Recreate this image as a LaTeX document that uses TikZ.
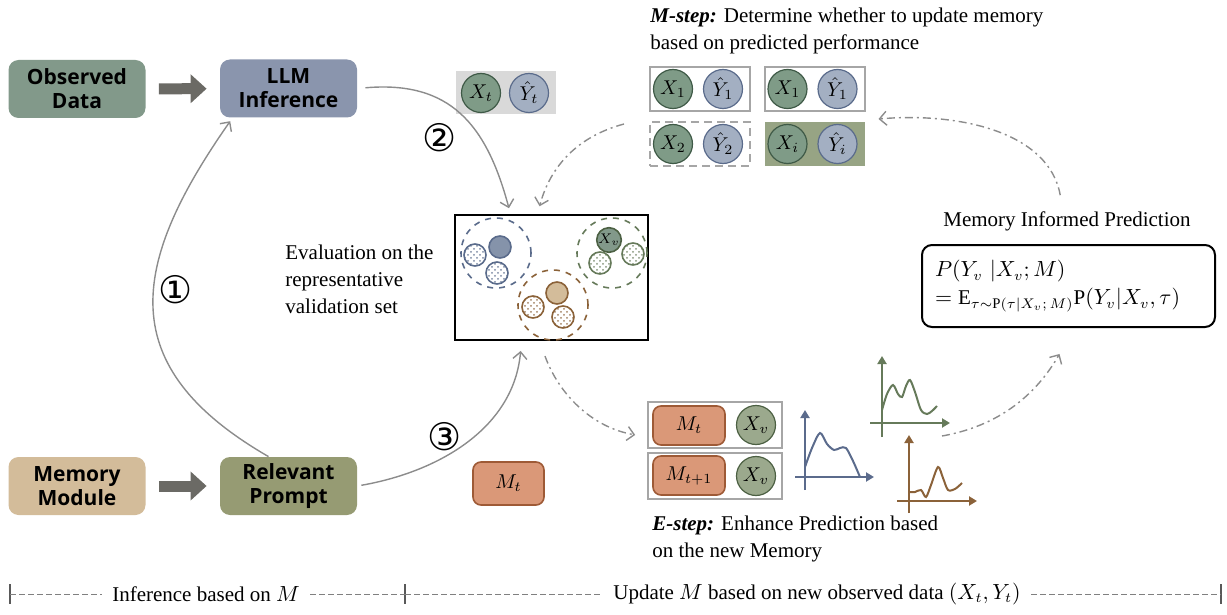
\documentclass[tikz,border=0pt]{standalone}
\usepackage{fontspec}
\setmainfont{Liberation Serif}
\newfontfamily\labelfont{Open Sans}
\newfontfamily\numfont{DejaVu Sans}
\usetikzlibrary{arrows.meta,patterns,positioning}

\definecolor{cobs}{HTML}{82998A}
\definecolor{cllm}{HTML}{8A95AD}
\definecolor{cmem}{HTML}{D3BC9A}
\definecolor{cprompt}{HTML}{969B73}
\definecolor{cfat}{HTML}{6B6A65}
\definecolor{cxfill}{HTML}{7F9B87}
\definecolor{cxdraw}{HTML}{3F5A47}
\definecolor{cyfill}{HTML}{A3AFC2}
\definecolor{cydraw}{HTML}{5A6B8B}
\definecolor{cysolid}{HTML}{8593AA}
\definecolor{corange}{HTML}{DA9878}
\definecolor{corangedraw}{HTML}{9E5A36}
\definecolor{cvfill}{HTML}{9BA98D}
\definecolor{cvdraw}{HTML}{4C6043}
\definecolor{cxi}{HTML}{97A484}
\definecolor{cconn}{HTML}{8C8C8C}
\definecolor{cgrid}{HTML}{A6A6A6}
\definecolor{cblueplot}{HTML}{5B6B8C}
\definecolor{cgreenplot}{HTML}{667A5A}
\definecolor{cbrownplot}{HTML}{8B6239}

\tikzstyle{block}     = [rounded corners=5pt, minimum width=68.5pt, minimum height=29pt, align=center, inner sep=0pt, font=\labelfont\bfseries\fontsize{10.5}{12}\selectfont]
\tikzstyle{fat}       = [cfat, line width=5.5pt, -{Triangle[length=8pt,width=14pt]}, shorten <=6.5pt, shorten >=6.5pt]
\tikzstyle{xball}     = [circle, minimum size=19.5pt, inner sep=0pt, fill=cxfill, draw=cxdraw, line width=0.6pt, font=\fontsize{10}{12}\selectfont]
\tikzstyle{yball}     = [xball, fill=cyfill, draw=cydraw]
\tikzstyle{vball}     = [xball, fill=cvfill, draw=cvdraw]
\tikzstyle{smallball} = [circle, minimum size=11pt, inner sep=0pt, line width=0.8pt]
\tikzstyle{membox}    = [draw=cgrid, line width=1pt, minimum width=50pt, minimum height=22pt, inner sep=0pt]
\tikzstyle{mt}        = [rounded corners=4pt, fill=corange, draw=corangedraw, line width=0.8pt, minimum width=36pt, minimum height=19.5pt, inner sep=0pt, font=\fontsize{10}{12}\selectfont]
\tikzstyle{conn}      = [cconn, line width=0.7pt, -{Straight Barb[length=3.5pt,width=7pt]}]
\tikzstyle{dashdot}   = [conn, dash pattern=on 4pt off 2pt on 1pt off 2pt]
\tikzstyle{txt}       = [align=left, inner sep=0pt, font=\fontsize{10.5}{13.5}\selectfont]
\tikzstyle{num}       = [inner sep=0pt, font=\numfont\fontsize{19}{19}\selectfont]
\tikzstyle{axis}      = [line width=1pt, -{Triangle[length=4pt,width=4.5pt]}]

\def\axes#1#2#3#4#5#6#7{
  \draw[#1, axis] (#2,#7) -- (#2,#6);
  \draw[#1, axis] (#4,#3) -- (#5,#3);
}

\begin{document}
\begin{tikzpicture}[x=0.5pt, y=-0.5pt]
  \useasboundingbox (0,0) rectangle (1227,615);

  % inference side
  \node[block, fill=cobs]    (obs) at (77,89)      {Observed\\Data};
  \node[block, fill=cllm]    (llm) at (288.5,88.5) {LLM\\Inference};
  \node[block, fill=cmem]    (mem) at (77,486)     {Memory\\Module};
  \node[block, fill=cprompt] (rp)  at (288.5,486)  {Relevant\\Prompt};
  \draw[fat] (obs) -- (llm);
  \draw[fat] (mem) -- (rp);

  \node[fill=gray!30, minimum width=50pt, minimum height=21.5pt] (cur) at (506,92.5) {};
  \node[xball] (curx) at (481,93) {$X_t$};
  \node[yball] (cury) at (529,93) {$\hat{Y}_t$};

  % validation set
  \node[draw=black, line width=1pt, minimum width=96.5pt, minimum height=62.5pt] (eval) at (551.5,277.5) {};
  \node[txt, anchor=west] (evaltxt) at (285,279) {Evaluation on the\\representative\\validation set};
  \foreach \n/\cx/\cy/\col in {blue/496/253/cydraw, brown/553/305/cbrownplot, green/612/253/cgreenplot}
    \node[circle, draw=\col, dashed, line width=0.8pt, minimum size=35pt, inner sep=0pt] (cl\n) at (\cx,\cy) {};
  \node[smallball, fill=cysolid, draw=cydraw]     (sblue)  at (500,247) {};
  \node[smallball, fill=cmem, draw=cbrownplot]    (sbrown) at (557,293) {};
  \node[smallball, fill=cobs, draw=cvdraw, font=\fontsize{7}{8}\selectfont] (sgreen) at (609,240) {$X_v$};
  \foreach \n/\px/\py/\col in {b1/475/255/cydraw, b2/497/273/cydraw, b3/533/307/cbrownplot, b4/563/317/cbrownplot, b5/600/263/cgreenplot, b6/633/254/cgreenplot}
    \node[smallball, draw=\col, pattern=crosshatch dots, pattern color=\col!80] (h\n) at (\px,\py) {};

  \node[num] (n1) at (176,290) {①};
  \node[num] (n2) at (440,138) {②};
  \node[num] (n3) at (445,437) {③};
  \draw[conn, shorten >=2pt] ([xshift=-10pt]rp.north) to[out=150, in=-125, looseness=1.35] ([xshift=-28pt]llm.south);
  \draw[conn, shorten <=4pt, shorten >=3pt] (llm.east) to[out=5, in=105, looseness=1.2] ([xshift=-20.5pt]eval.north);
  \draw[conn, shorten <=2pt, shorten >=5pt] (rp.east) to[out=10, in=-95] ([xshift=-15pt]eval.south);

  % M-step
  \node[txt, anchor=north west] (mstep) at (650,8) {\textbf{\textit{M-step:}} Determine whether to update memory\\based on predicted performance};
  \node[membox] (m1) at (700,89) {};
  \node[membox] (m2) at (814.5,89) {};
  \node[membox, dash pattern=on 4pt off 2.5pt] (m3) at (700,144) {};
  \node[membox, draw=none, fill=cxi] (m4) at (814.5,144) {};
  \foreach \b/\i in {m1/1, m2/1, m3/2, m4/i} {
    \node[xball] (x\b) at ([xshift=-13.5pt]\b) {$X_{\i}$};
    \node[yball] (y\b) at ([xshift=11.5pt]\b) {$\hat{Y}_{\i}$};
  }
  \draw[dashdot, shorten >=4pt] ([xshift=-12.5pt, yshift=-1.5pt]m3.north west) to[out=195, in=75] ([xshift=-7pt]eval.north);

  % prediction
  \node[txt] (miptitle) at (1067,221) {Memory Informed Prediction};
  \node[draw, rounded corners=5pt, line width=1pt, text width=133.5pt, inner xsep=6.5pt, minimum height=41pt, align=left, font=\fontsize{10.5}{14}\selectfont] (mip) at (1068.5,286)
    {$P(Y_v\ |X_v;M)$\\$=\mathrm{E}_{\tau\sim\mathrm{P}(\tau|X_v;\,M)}\mathrm{P}(Y_v|X_v,\tau)$};
  \draw[dashdot, shorten <=8pt] ([xshift=-2pt]miptitle.north) to[out=100, in=5] ([xshift=6.5pt, yshift=-3.5pt]m2.south east);

  % E-step
  \node[membox, minimum width=67pt, minimum height=23pt] (e1) at (715,425) {};
  \node[membox, minimum width=67pt, minimum height=23pt] (e2) at (715,476) {};
  \node[mt] (mt1) at (689,425.5) {$M_t$};
  \node[mt] (mt2) at (689,475.5) {$M_{t+1}$};
  \node[vball] (v1) at (756,425) {$X_v$};
  \node[vball] (v2) at (756,476) {$X_v$};
  \node[mt, minimum width=35.5pt, minimum height=21.5pt] (mt0) at (508.5,483.5) {$M_t$};
  \node[txt, anchor=north west] (estep) at (652,516) {\textbf{\textit{E-step:}} Enhance Prediction based\\on the new Memory};
  \draw[dashdot, shorten <=8pt, shorten >=6pt] ([xshift=-6pt]eval.south) to[out=-70, in=170] ([yshift=-6pt]e1.west);

  \axes{cblueplot}{805}{477}{795}{874}{410}{490}
  \draw[cblueplot, line width=1pt] plot[smooth] coordinates {(805,467) (812,448) (820,433) (827,444) (834,450) (840,448) (846,448) (853,461) (860,477)};
  \axes{cgreenplot}{882}{423}{870}{950}{356}{437}
  \draw[cgreenplot, line width=1pt] plot[smooth] coordinates {(882,410) (887,394) (893,385) (898,394) (902,397) (906,386) (910,380) (915,392) (921,410) (927,414) (932,411) (937,406)};
  \axes{cbrownplot}{909}{501}{897}{977}{435}{513}
  \draw[cbrownplot, line width=1pt] plot[smooth] coordinates {(909,492) (915,492) (921,490) (926,497) (931,485) (938,467) (943,478) (948,490) (955,489) (962,483)};
  \coordinate (plots) at (942,436);
  \draw[dashdot, shorten >=15pt] (plots) to[out=10, in=-120] ([xshift=3pt]mip.south);

  % timeline
  \node[txt] (tl1) at (206,594) {Inference based on $M$};
  \node[txt] (tl2) at (817,594) {Update $M$ based on new observed data $(X_t,Y_t)$};
  \coordinate (t0) at (10,594);
  \coordinate (t1) at (405,594);
  \coordinate (t2) at (1221,594);
  \foreach \t in {t0,t1,t2}
    \draw[gray!70!black, line width=0.6pt] ([yshift=5pt]\t) -- ([yshift=-5pt]\t);
  \draw[gray, dash pattern=on 3pt off 1.5pt] (t0) -- ([xshift=-5pt]tl1.west);
  \draw[gray, dash pattern=on 3pt off 1.5pt] ([xshift=5pt]tl1.east) -- (t1);
  \draw[gray, dash pattern=on 3pt off 1.5pt] (t1) -- ([xshift=-5pt]tl2.west);
  \draw[gray, dash pattern=on 3pt off 1.5pt] ([xshift=5pt]tl2.east) -- (t2);
\end{tikzpicture}
\end{document}
